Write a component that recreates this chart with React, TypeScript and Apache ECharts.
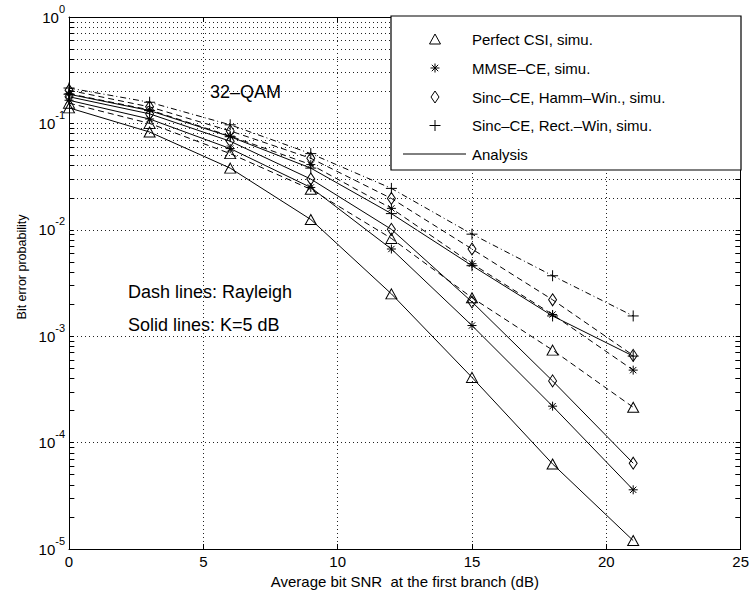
import React, { useEffect, useRef } from 'react';
import * as echarts from 'echarts';

// Average bit SNR (dB)
const snr = [0, 3, 6, 9, 12, 15, 18, 21];

// K = 5 dB (solid lines)
const perfectK5 = [0.14, 0.083, 0.038, 0.0125, 0.0025, 0.00041, 0.000063, 0.000012];
const mmseK5 = [0.165, 0.11, 0.058, 0.025, 0.0066, 0.00126, 0.00022, 0.000036];
const hammK5 = [0.178, 0.123, 0.068, 0.03, 0.0101, 0.0021, 0.00038, 0.000064];
const rectK5 = [0.188, 0.132, 0.075, 0.038, 0.0142, 0.0046, 0.00155, 0.00065];

// Rayleigh (dashed lines)
const perfectRay = [0.155, 0.1, 0.052, 0.024, 0.0083, 0.0023, 0.00074, 0.000215];
const mmseRay = [0.19, 0.134, 0.076, 0.041, 0.0159, 0.0048, 0.0016, 0.00048];
const hammRay = [0.205, 0.143, 0.085, 0.047, 0.0197, 0.0066, 0.0022, 0.00066];
const rectRay = [0.215, 0.158, 0.097, 0.052, 0.0245, 0.0091, 0.0037, 0.00155];

const legendLabels = [
  'Perfect CSI, simu.',
  'MMSE\u2013CE, simu.',
  'Sinc\u2013CE, Hamm\u2013Win., simu.',
  'Sinc\u2013CE, Rect.\u2013Win, simu.',
  'Analysis',
];

const FONT = '"Liberation Sans", Arial, Helvetica, sans-serif';

const SYM_TRI = 'triangle';
const SYM_DIA = 'diamond';
const SYM_STAR = 'path://M5,0L5,10M0,5L10,5M1.5,1.5L8.5,8.5M1.5,8.5L8.5,1.5';
const SYM_PLUS = 'path://M5,0L5,10M0,5L10,5';

export default function App() {
  const ref = useRef<HTMLDivElement>(null);

  useEffect(() => {
    const chart = echarts.init(ref.current!, null, { renderer: 'svg' });

    const cases = [
      { name: 'Perfect CSI K5', vals: perfectK5, symbol: SYM_TRI, size: [11, 10], dash: 'solid' },
      { name: 'MMSE K5', vals: mmseK5, symbol: SYM_STAR, size: 9, dash: 'solid' },
      { name: 'Hamm K5', vals: hammK5, symbol: SYM_DIA, size: [8, 12], dash: 'solid' },
      { name: 'Rect K5', vals: rectK5, symbol: SYM_PLUS, size: 11, dash: 'solid' },
      { name: 'Perfect CSI Rayleigh', vals: perfectRay, symbol: SYM_TRI, size: [11, 10], dash: [6, 4] },
      { name: 'MMSE Rayleigh', vals: mmseRay, symbol: SYM_STAR, size: 9, dash: [6, 4] },
      { name: 'Hamm Rayleigh', vals: hammRay, symbol: SYM_DIA, size: [8, 12], dash: [6, 4] },
      { name: 'Rect Rayleigh', vals: rectRay, symbol: SYM_PLUS, size: 11, dash: [6, 3, 1, 3] },
    ];

    // minor (2..9) log grid positions
    const minorVals: number[] = [];
    for (let e = -5; e <= -1; e++) {
      for (let m = 2; m <= 9; m++) minorVals.push(m * Math.pow(10, e));
    }
    const dotted = { color: '#222', width: 1, type: [1, 3] as any };
    const markData: any[] = [];
    minorVals.forEach((v) => {
      markData.push({ yAxis: v, lineStyle: dotted });
      markData.push([
        { coord: [0, v], lineStyle: { color: '#000', width: 1, type: 'solid' } },
        { coord: [0.2, v] },
      ]);
      markData.push([
        { coord: [24.8, v], lineStyle: { color: '#000', width: 1, type: 'solid' } },
        { coord: [25, v] },
      ]);
    });

    const series: any[] = cases.map((c, idx) => ({
      type: 'line',
      name: c.name,
      data: snr.map((x, i) => [x, c.vals[i]]),
      symbol: c.symbol,
      symbolSize: c.size,
      showSymbol: true,
      showAllSymbol: true,
      lineStyle: { color: '#000', width: 1, type: c.dash },
      itemStyle: { color: 'transparent', borderColor: '#000', borderWidth: 1 },
      emphasis: { disabled: true },
      z: 3,
      ...(idx === 0
        ? {
            markLine: {
              silent: true,
              symbol: ['none', 'none'],
              label: { show: false },
              emphasis: { disabled: true },
              animation: false,
              data: markData,
            },
          }
        : {}),
    }));

    const yLabelFormatter = (v: number) => {
      const e = Math.round(Math.log10(v));
      return `{base|10}{sup|${e}}`;
    };

    const rows = [39, 68, 97, 125.5, 154];
    const mx = 435;
    const lineStyleG = { stroke: '#000', lineWidth: 1, fill: 'none' };

    const graphic: any[] = [
      {
        type: 'rect',
        z: 100,
        shape: { x: 391, y: 16, width: 350, height: 154 },
        style: { fill: '#fff', stroke: '#000', lineWidth: 1.2 },
      },
      // triangle
      {
        type: 'polygon',
        z: 101,
        shape: { points: [[mx - 5.5, rows[0] + 5], [mx + 5.5, rows[0] + 5], [mx, rows[0] - 5]] },
        style: lineStyleG,
      },
      // star
      { type: 'line', z: 101, shape: { x1: mx, y1: rows[1] - 4.5, x2: mx, y2: rows[1] + 4.5 }, style: lineStyleG },
      { type: 'line', z: 101, shape: { x1: mx - 4.5, y1: rows[1], x2: mx + 4.5, y2: rows[1] }, style: lineStyleG },
      { type: 'line', z: 101, shape: { x1: mx - 3.2, y1: rows[1] - 3.2, x2: mx + 3.2, y2: rows[1] + 3.2 }, style: lineStyleG },
      { type: 'line', z: 101, shape: { x1: mx - 3.2, y1: rows[1] + 3.2, x2: mx + 3.2, y2: rows[1] - 3.2 }, style: lineStyleG },
      // diamond
      {
        type: 'polygon',
        z: 101,
        shape: { points: [[mx, rows[2] - 6], [mx + 4, rows[2]], [mx, rows[2] + 6], [mx - 4, rows[2]]] },
        style: lineStyleG,
      },
      // plus
      { type: 'line', z: 101, shape: { x1: mx, y1: rows[3] - 5.5, x2: mx, y2: rows[3] + 5.5 }, style: lineStyleG },
      { type: 'line', z: 101, shape: { x1: mx - 5.5, y1: rows[3], x2: mx + 5.5, y2: rows[3] }, style: lineStyleG },
      // analysis line
      { type: 'line', z: 101, shape: { x1: 403, y1: rows[4], x2: 466, y2: rows[4] }, style: lineStyleG },
      ...legendLabels.map((t, i) => ({
        type: 'text',
        z: 101,
        x: 472,
        y: rows[i],
        style: { text: t, fontSize: 15, fontFamily: FONT, fill: '#000', verticalAlign: 'middle', align: 'left' },
      })),
      // annotations
      {
        type: 'text',
        z: 50,
        x: 210,
        y: 92,
        style: { text: '32\u2013QAM', fontSize: 18, fontFamily: FONT, fill: '#000', verticalAlign: 'middle' },
      },
      {
        type: 'text',
        z: 50,
        x: 128,
        y: 292,
        style: { text: 'Dash lines: Rayleigh', fontSize: 18, fontFamily: FONT, fill: '#000', verticalAlign: 'middle' },
      },
      {
        type: 'text',
        z: 50,
        x: 128,
        y: 325,
        style: { text: 'Solid lines: K=5 dB', fontSize: 18, fontFamily: FONT, fill: '#000', verticalAlign: 'middle' },
      },
      {
        type: 'text',
        z: 50,
        x: 22,
        y: 267,
        rotation: Math.PI / 2,
        style: {
          text: 'Bit error probability',
          fontSize: 12.5,
          fontFamily: FONT,
          fill: '#000',
          align: 'center',
          verticalAlign: 'middle',
        },
      },
    ];

    const axisLineBlack = { show: true, onZero: false, lineStyle: { color: '#000', width: 1 } };
    const tickIn = { show: true, inside: true, length: 5, lineStyle: { color: '#000', width: 1 } };

    chart.setOption({
      animation: false,
      backgroundColor: '#fff',
      textStyle: { fontFamily: FONT },
      grid: { left: 69, right: 8, top: 17, bottom: 45, containLabel: false },
      xAxis: [
        {
          type: 'value',
          min: 0,
          max: 25,
          interval: 5,
          position: 'bottom',
          axisLine: axisLineBlack,
          axisTick: tickIn,
          axisLabel: { fontSize: 15, color: '#000', margin: 5, fontFamily: FONT },
          splitLine: { show: true, lineStyle: dotted },
          name: 'Average bit SNR  at the first branch (dB)',
          nameLocation: 'middle',
          nameGap: 23,
          nameTextStyle: { fontSize: 15, color: '#000', fontFamily: FONT },
        },
        {
          type: 'value',
          min: 0,
          max: 25,
          interval: 5,
          position: 'top',
          axisLine: axisLineBlack,
          axisTick: tickIn,
          axisLabel: { show: false },
          splitLine: { show: false },
        },
      ],
      yAxis: [
        {
          type: 'log',
          logBase: 10,
          min: 1e-5,
          max: 1,
          position: 'left',
          axisLine: axisLineBlack,
          axisTick: tickIn,
          axisLabel: {
            margin: 4,
            fontSize: 15,
            color: '#000',
            fontFamily: FONT,
            formatter: yLabelFormatter,
            rich: {
              base: { fontSize: 15, lineHeight: 28, fontFamily: FONT, color: '#000' },
              sup: { fontSize: 11, lineHeight: 18, verticalAlign: 'top', fontFamily: FONT, color: '#000' },
            },
          },
          splitLine: { show: true, lineStyle: dotted },
        },
        {
          type: 'log',
          logBase: 10,
          min: 1e-5,
          max: 1,
          position: 'right',
          axisLine: axisLineBlack,
          axisTick: tickIn,
          axisLabel: { show: false },
          splitLine: { show: false },
        },
      ],
      series,
      graphic,
    });

    return () => chart.dispose();
  }, []);

  return (
    <div
      ref={ref}
      style={{ position: 'fixed', left: 0, top: 0, width: 752, height: 594, background: '#fff' }}
    />
  );
}
